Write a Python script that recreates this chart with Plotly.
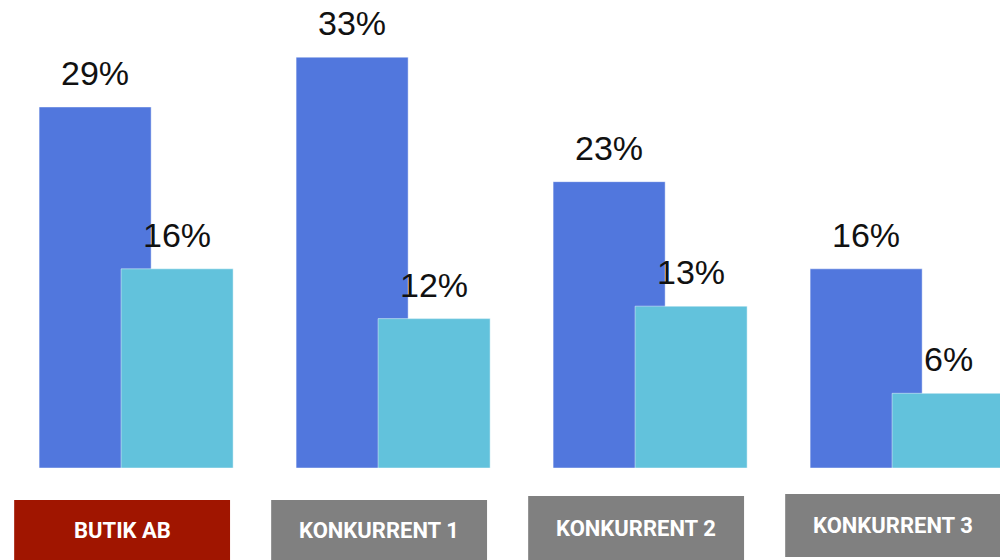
import plotly.graph_objects as go

categories = ["BUTIK AB", "KONKURRENT 1", "KONKURRENT 2", "KONKURRENT 3"]
series_a = [29, 33, 23, 16]
series_b = [16, 12, 13, 6]

DARK = "#5177DD"
LIGHT = "#62C2DC"
BAR_W = 0.436
OFF_A = -0.377
OFF_B = -0.058

x = list(range(len(categories)))

fig = go.Figure()
for vals, off, col in [(series_a, OFF_A, DARK), (series_b, OFF_B, LIGHT)]:
    fig.add_trace(go.Bar(
        x=x, y=vals, width=BAR_W, offset=off,
        marker=dict(color=col, line=dict(color="rgba(255,255,255,0.45)", width=1)),
        hoverinfo="skip", showlegend=False,
    ))
    for i, v in zip(x, vals):
        fig.add_annotation(
            x=i + off + BAR_W / 2, y=v, xref="x", yref="y",
            text=f"{v}%", showarrow=False, yanchor="bottom", yshift=13,
            font=dict(family="Liberation Sans", size=34, color="#111111"),
        )

# category label boxes
box_colors = ["#A01500", "#808080", "#808080", "#808080"]
box_y = [(-0.0696, -0.2), (-0.0696, -0.2), (-0.0609, -0.2), (-0.0565, -0.1935)]
for i, (name, col, (y0, y1)) in enumerate(zip(categories, box_colors, box_y)):
    fig.add_shape(type="rect", xref="x", yref="paper",
                  x0=i - 0.474, x1=i + 0.366, y0=y1, y1=y0,
                  fillcolor=col, line=dict(width=0), layer="above")
    fig.add_annotation(
        x=i - 0.054, y=(y0 + y1) / 2, xref="x", yref="paper",
        text=f"<b>{name}</b>", showarrow=False, yanchor="middle",
        font=dict(family="Roboto", size=22, color="white", weight=900),
    )

fig.update_layout(
    barmode="overlay",
    width=1000, height=552,
    margin=dict(l=0, r=0, t=0, b=92),
    paper_bgcolor="white", plot_bgcolor="white",
    xaxis=dict(range=[-0.498, 3.393], visible=False),
    yaxis=dict(range=[0, 36.95], visible=False),
)

fig.write_html("out.html")
